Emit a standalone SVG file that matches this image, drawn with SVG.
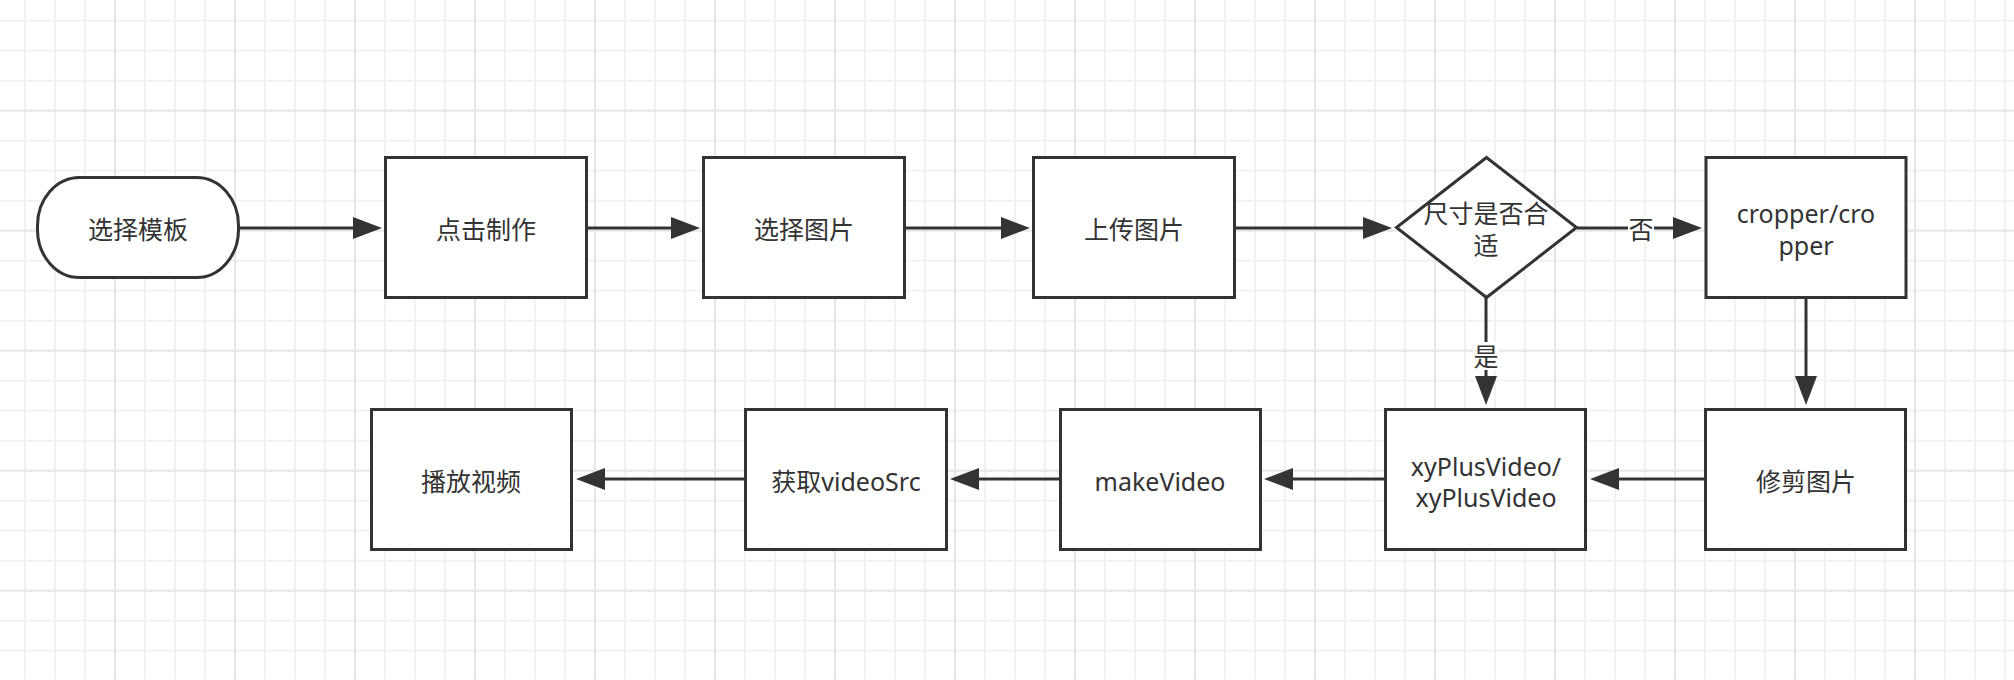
<svg xmlns="http://www.w3.org/2000/svg" width="2014" height="680" viewBox="0 0 2014 680">
  <style>
    .node { fill: #ffffff; stroke: #333333; stroke-width: 3; }
    .edge { fill: none; stroke: #333333; stroke-width: 3; }
    .t { font-family: "Noto Sans", "Noto Sans CJK SC", sans-serif; font-size: 25px; fill: #333333; text-anchor: middle; dominant-baseline: central; }
    .lbl { fill: #ffffff; stroke: none; }
  </style>
  <defs>
    <pattern id="grid" x="100" y="95.7" width="120" height="120" patternUnits="userSpaceOnUse">
      <path d="M45,0 V120 M75,0 V120 M105,0 V120 M0,45 H120 M0,75 H120 M0,105 H120" stroke="#f2f2f2" stroke-width="2" fill="none"/>
      <path d="M15,0 V120 M0,15 H120" stroke="#e6e6e6" stroke-width="2" fill="none"/>
    </pattern>
    <marker id="arrow" markerUnits="userSpaceOnUse" markerWidth="29" markerHeight="22" refX="0" refY="11" orient="auto" viewBox="0 0 29 22">
      <path d="M0,0 L29,11 L0,22 Z" fill="#333333"/>
    </marker>
  </defs>
  <rect x="0" y="0" width="2014" height="680" fill="#ffffff"/>
  <rect x="0" y="0" width="2014" height="680" fill="url(#grid)"/>

  <g id="connectors">
    <line class="edge" x1="239" y1="228" x2="353" y2="228" marker-end="url(#arrow)"/>
    <line class="edge" x1="587" y1="228" x2="671" y2="228" marker-end="url(#arrow)"/>
    <line class="edge" x1="905" y1="228" x2="1001" y2="228" marker-end="url(#arrow)"/>
    <line class="edge" x1="1235" y1="228" x2="1363" y2="228" marker-end="url(#arrow)"/>
    <line class="edge" x1="1577" y1="228" x2="1673" y2="228" marker-end="url(#arrow)"/>
    <rect class="lbl" x="1628" y="215" width="26" height="28"/>
    <text class="t" x="1641" y="229">否</text>
    <line class="edge" x1="1486" y1="298" x2="1486" y2="376" marker-end="url(#arrow)"/>
    <rect class="lbl" x="1473" y="342" width="26" height="28"/>
    <text class="t" x="1486" y="356">是</text>
    <line class="edge" x1="1806" y1="298" x2="1806" y2="376" marker-end="url(#arrow)"/>
    <line class="edge" x1="1705" y1="479" x2="1619" y2="479" marker-end="url(#arrow)"/>
    <line class="edge" x1="1385" y1="479" x2="1293" y2="479" marker-end="url(#arrow)"/>
    <line class="edge" x1="1060" y1="479" x2="979" y2="479" marker-end="url(#arrow)"/>
    <line class="edge" x1="745" y1="479" x2="605" y2="479" marker-end="url(#arrow)"/>
  </g>

  <g id="n-start">
    <rect class="node" x="37.5" y="177.5" width="201" height="100" rx="42" ry="48"/>
    <text class="t" x="138" y="229">选择模板</text>
  </g>
  <g id="n-click">
    <rect class="node" x="385.5" y="157.5" width="201" height="140"/>
    <text class="t" x="486" y="229">点击制作</text>
  </g>
  <g id="n-select">
    <rect class="node" x="703.5" y="157.5" width="201" height="140"/>
    <text class="t" x="804" y="229">选择图片</text>
  </g>
  <g id="n-upload">
    <rect class="node" x="1033.5" y="157.5" width="201" height="140"/>
    <text class="t" x="1134" y="229">上传图片</text>
  </g>
  <g id="n-decision">
    <polygon class="node" points="1486.5,157.5 1576.5,227.5 1486.5,297.5 1396.5,227.5"/>
    <text class="t" x="1486" y="213">尺寸是否合</text>
    <text class="t" x="1486" y="245">适</text>
  </g>
  <g id="n-cropper">
    <rect class="node" x="1706" y="157.5" width="200" height="140"/>
    <text class="t" x="1806" y="213">cropper/cro</text>
    <text class="t" x="1806" y="245">pper</text>
  </g>
  <g id="n-trim">
    <rect class="node" x="1705.5" y="409.5" width="200" height="140"/>
    <text class="t" x="1806" y="481">修剪图片</text>
  </g>
  <g id="n-xyplus">
    <rect class="node" x="1385.5" y="409.5" width="200" height="140"/>
    <text class="t" x="1486" y="466">xyPlusVideo/</text>
    <text class="t" x="1486" y="497">xyPlusVideo</text>
  </g>
  <g id="n-make">
    <rect class="node" x="1060.5" y="409.5" width="200" height="140"/>
    <text class="t" x="1160" y="481">makeVideo</text>
  </g>
  <g id="n-getsrc">
    <rect class="node" x="745.5" y="409.5" width="201" height="140"/>
    <text class="t" x="846" y="481">获取videoSrc</text>
  </g>
  <g id="n-play">
    <rect class="node" x="371.5" y="409.5" width="200" height="140"/>
    <text class="t" x="471" y="481">播放视频</text>
  </g>
</svg>
